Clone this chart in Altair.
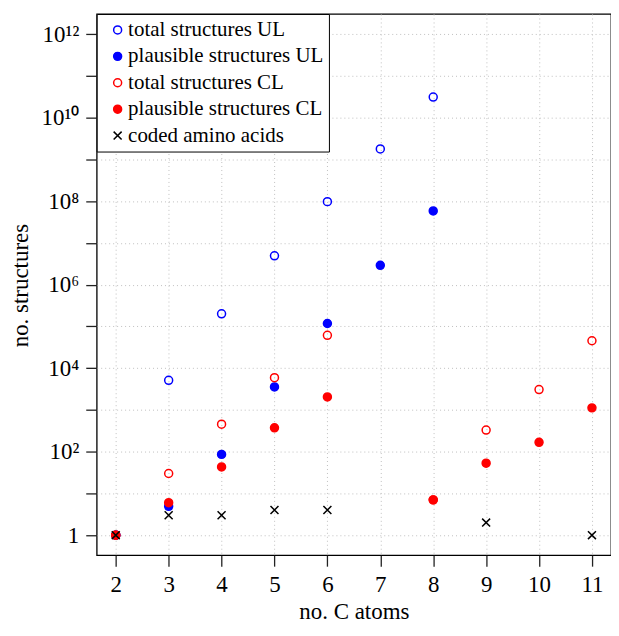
import altair as alt
import pandas as pd

carbons = [2, 3, 4, 5, 6, 7, 8, 9, 10, 11]
total_ul = [1, 5100, 2.0e5, 4.9e6, 9.7e7, 1.77e9, 3.1e10, None, None, None]
plausible_ul = [1, 4.9, 86, 3540, 1.17e5, 2.9e6, 5.8e7, None, None, None]
total_cl = [1, 30, 455, 5900, 6.1e4, None, 7, 328, 3070, 45200]
plausible_cl = [1, 6, 43, 372, 2040, None, 7, 53, 167, 1117]
coded = [1, 3, 3, 4, 4, None, None, 2, None, 1]

series_names = ["total structures UL", "plausible structures UL",
                "total structures CL", "plausible structures CL",
                "coded amino acids"]
series_values = [total_ul, plausible_ul, total_cl, plausible_cl, coded]
stroke_colors = ["#0000ff", "#0000ff", "#ff0000", "#ff0000", "#000000"]
fill_colors = ["transparent", "#0000ff", "transparent", "#ff0000", "transparent"]
cross = "M-1,-1L1,1M-1,1L1,-1"
shapes = ["circle", "circle", "circle", "circle", cross]

y_tick_values = [10 ** k for k in range(13)]
y_tick_labels = ["1", "", "10²", "", "10⁴", "", "10⁶", "", "10⁸", "", "10¹⁰", "", "10¹²"]

rows = []
for si, (name, vals) in enumerate(zip(series_names, series_values)):
    for c, v in zip(carbons, vals):
        if v is not None:
            rows.append({"carbons": c, "value": v, "series": name, "idx": si})
df = pd.DataFrame(rows)

FONT = "Liberation Serif"
label_arr = "[" + ",".join("'" + s + "'" for s in y_tick_labels) + "]"
legend_label_expr = "datum.label + '\u00a0'"


def leg():
    return alt.Legend(title=None, labelExpr=legend_label_expr)


chart = alt.Chart(df).mark_point(opacity=1, strokeWidth=1.5, size=64).encode(
    x=alt.X("carbons:Q",
            scale=alt.Scale(domain=[1.64, 11.36], nice=False, zero=False),
            axis=alt.Axis(values=carbons, title="no. C atoms", tickSize=11,
                          labelPadding=25, labelBaseline="alphabetic",
                          titleY=63.5, titleBaseline="alphabetic")),
    y=alt.Y("value:Q",
            scale=alt.Scale(type="log", domain=[10 ** -0.48, 10 ** 12.48], nice=False),
            axis=alt.Axis(values=y_tick_values, title="no. structures", tickSize=11,
                          labelPadding=7, labelBaseline="middle",
                          labelExpr=label_arr + "[round(log(datum.value)/LN10)]",
                          titleX=-69, titleY=272, titleBaseline="alphabetic")),
    stroke=alt.Stroke("series:N", scale=alt.Scale(domain=series_names, range=stroke_colors),
                      legend=leg()),
    fill=alt.Fill("series:N", scale=alt.Scale(domain=series_names, range=fill_colors),
                  legend=leg()),
    shape=alt.Shape("series:N", scale=alt.Scale(domain=series_names, range=shapes),
                    legend=leg()),
    order=alt.Order("idx:Q"),
).properties(
    width=516, height=543,
    autosize=alt.AutoSizeParams(type="none"),
    padding={"left": 89, "top": 5, "right": 0, "bottom": 67},
).configure_view(
    stroke="black", strokeWidth=1.3
).configure_axis(
    domain=False,
    grid=True, gridColor="#c0c0c0", gridDash=[1, 3], gridWidth=1,
    tickColor="#222222", tickWidth=1.3,
    labelFont=FONT, labelFontSize=23, labelColor="black",
    titleFont=FONT, titleFontSize=23, titleColor="black", titleFontWeight="normal",
).configure_legend(
    orient="top-left", offset=0, padding=5.5, rowPadding=4.5,
    labelFont=FONT, labelFontSize=21, labelColor="black", labelLimit=400,
    symbolOffset=5, labelOffset=0, symbolStrokeWidth=1.5, symbolSize=64,
    strokeColor="black", fillColor="white", cornerRadius=0,
)

chart.save("out.html", embed_options={"renderer": "svg", "actions": False})
